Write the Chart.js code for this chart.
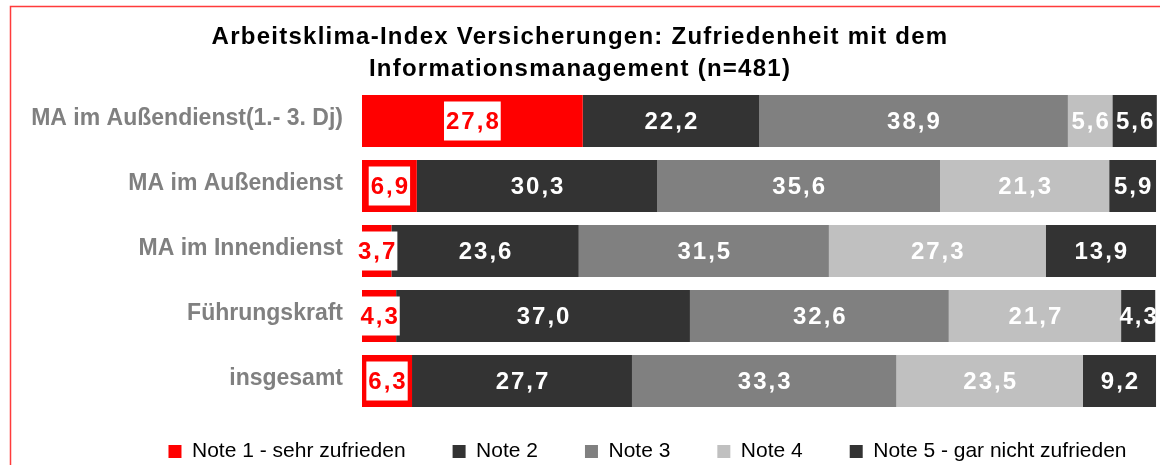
<!DOCTYPE html>
<html lang="de">
<head>
<meta charset="utf-8">
<title>Arbeitsklima-Index Versicherungen</title>
<script src="https://cdn.jsdelivr.net/npm/chart.js@4.4.0/dist/chart.umd.min.js"></script>
<style>
  html, body { margin: 0; padding: 0; background: #fff; overflow: hidden; }
  #wrap { position: relative; width: 1160px; height: 465px; }
</style>
</head>
<body>
<div id="wrap"><canvas id="infoChart"></canvas></div>
<script>
// values (percent)
const categories = [
    'MA im Außendienst(1.- 3. Dj)',
    'MA im Außendienst',
    'MA im Innendienst',
    'Führungskraft',
    'insgesamt'
];
const seriesNames = [
    'Note 1 - sehr zufrieden',
    'Note 2',
    'Note 3',
    'Note 4',
    'Note 5 - gar nicht zufrieden'
];
const note1 = [27.8, 6.9, 3.7, 4.3, 6.3];
const note2 = [22.2, 30.3, 23.6, 37.0, 27.7];
const note3 = [38.9, 35.6, 31.5, 32.6, 33.3];
const note4 = [5.6, 21.3, 27.3, 21.7, 23.5];
const note5 = [5.6, 5.9, 13.9, 4.3, 9.2];

const colors = ['#ff0000', '#333333', '#808080', '#c0c0c0', '#333333'];
const seriesValues = [note1, note2, note3, note4, note5];

Chart.defaults.font.family = '"Liberation Sans", Arial, sans-serif';

// red frame of the original chart
const framePlugin = {
    id: 'frame',
    beforeDraw(chart) {
        const c = chart.ctx;
        c.save();
        c.strokeStyle = '#ff3b3b';
        c.lineWidth = 1.5;
        c.beginPath();
        c.moveTo(10.5, chart.height + 10);
        c.lineTo(10.5, 6.5);
        c.lineTo(chart.width + 10, 6.5);
        c.stroke();
        c.restore();
    }
};

// title gets a bit of letter spacing, legend is moved a bit
const tweakPlugin = {
    id: 'tweak',
    afterInit(chart) {
        const tb = chart.titleBlock;
        if (tb && !tb._spaced) {
            const orig = tb.draw.bind(tb);
            tb.draw = function (area) {
                const c = chart.ctx;
                c.save();
                c.letterSpacing = '1.25px';
                orig(area);
                c.restore();
            };
            tb._spaced = true;
        }
    },
    afterLayout(chart) {
        const lg = chart.legend;
        if (!lg) return;
        // legend centre in the original sits at x ~ 647
        lg.left = 75;
        lg.right = 1220;
        lg.top = 394;
        lg.bottom = chart.height;
    }
};

// value labels inside the segments
const valueLabels = {
    id: 'valueLabels',
    afterDatasetsDraw(chart) {
        const c = chart.ctx;
        chart.data.datasets.forEach((ds, di) => {
            const meta = chart.getDatasetMeta(di);
            meta.data.forEach((bar, i) => {
                const txt = ds.data[i].toFixed(1).replace('.', ',');
                const cx = (bar.x + bar.base) / 2;
                const cy = bar.y;
                c.save();
                c.font = 'bold 24px "Liberation Sans", Arial, sans-serif';
                c.letterSpacing = '2px';
                const w = c.measureText(txt).width - 2;
                if (di === 0) {
                    c.fillStyle = '#ffffff';
                    c.fillRect(cx - w / 2 - 2, cy - 19.5, w + 4, 39);
                }
                c.fillStyle = di === 0 ? '#ff0000' : '#ffffff';
                c.textAlign = 'left';
                c.textBaseline = 'middle';
                c.fillText(txt, cx - w / 2, cy + 1);
                c.restore();
            });
        });
    }
};

const ctx = document.getElementById('infoChart').getContext('2d');
new Chart(ctx, {
    type: 'bar',
    data: {
        labels: categories,
        datasets: seriesNames.map((name, k) => ({
            label: name,
            data: seriesValues[k],
            backgroundColor: colors[k],
            borderWidth: 0,
            categoryPercentage: 1.0,
            barPercentage: 0.8
        }))
    },
    options: {
        indexAxis: 'y',
        responsive: true,
        maintainAspectRatio: false,
        devicePixelRatio: 1,
        animation: false,
        layout: { padding: 0 },
        scales: {
            x: {
                stacked: true,
                display: false,
                min: 0,
                max: 100.5
            },
            y: {
                stacked: true,
                grid: { display: false, drawTicks: false },
                border: { display: false },
                ticks: {
                    color: '#808080',
                    padding: 19,
                    labelOffset: -2.5,
                    font: { size: 23, weight: 'bold' }
                },
                afterFit(scale) {
                    scale.width = 362;
                }
            }
        },
        plugins: {
            title: {
                display: true,
                text: [
                    'Arbeitsklima-Index Versicherungen: Zufriedenheit mit dem',
                    'Informationsmanagement (n=481)'
                ],
                color: '#000000',
                font: { size: 24, weight: 'bold', lineHeight: 32 / 24 },
                padding: { top: 21, bottom: 3.5 }
            },
            legend: {
                position: 'bottom',
                maxHeight: 51.5,
                labels: {
                    color: '#000000',
                    boxWidth: 13,
                    boxHeight: 13,
                    padding: 47,
                    font: { size: 21 }
                }
            },
            tooltip: { enabled: false }
        }
    },
    plugins: [framePlugin, tweakPlugin, valueLabels]
});
</script>
</body>
</html>
